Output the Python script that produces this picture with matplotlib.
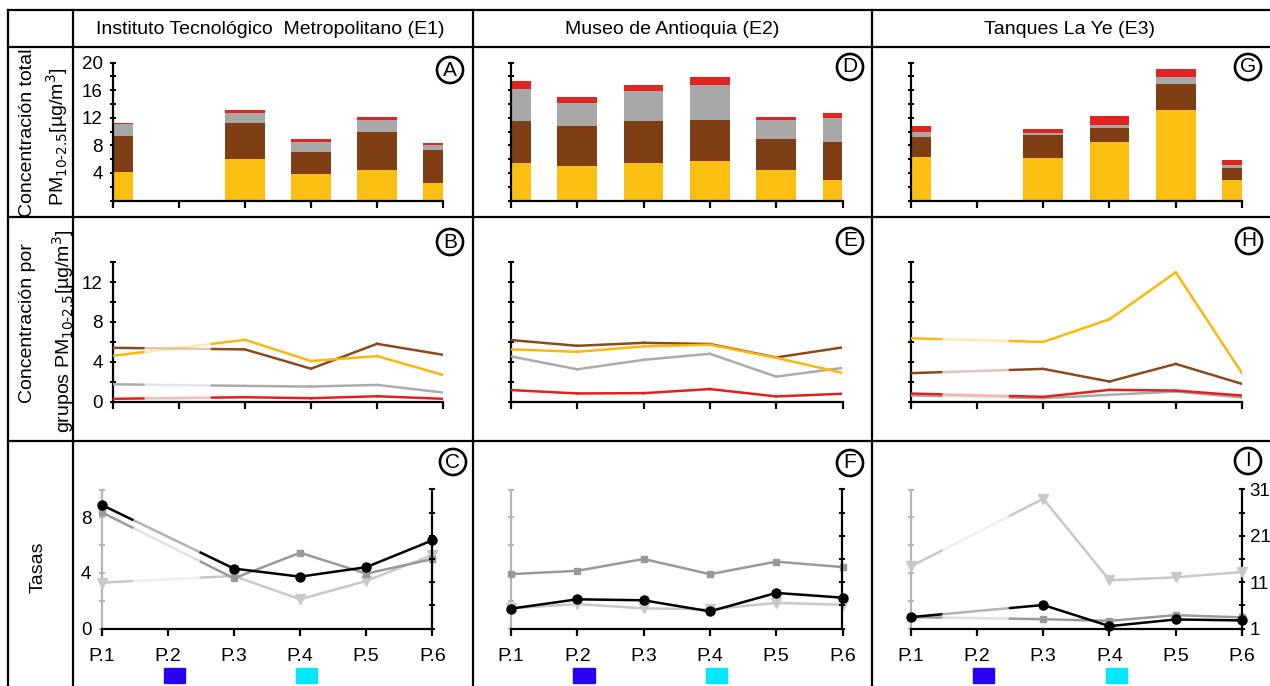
import numpy as np
import matplotlib
matplotlib.use("Agg")
import matplotlib.pyplot as plt
import matplotlib.transforms as mtransforms
from matplotlib.lines import Line2D
from matplotlib.patches import Rectangle

plt.rcParams['font.family'] = ['Liberation Sans Narrow', 'Liberation Sans', 'DejaVu Sans']
plt.rcParams['mathtext.fontset'] = 'custom'
plt.rcParams['mathtext.rm'] = 'Liberation Sans Narrow'
plt.rcParams['mathtext.it'] = 'Liberation Sans Narrow'
plt.rcParams['mathtext.bf'] = 'Liberation Sans Narrow'

nan = np.nan

STATIONS = ["Instituto Tecnológico  Metropolitano (E1)", "Museo de Antioquia (E2)", "Tanques La Ye (E3)"]
POINTS = ["P.1", "P.2", "P.3", "P.4", "P.5", "P.6"]
PANEL_TAGS = [["A", "B", "C"], ["D", "E", "F"], ["G", "H", "I"]]

# stacked totals per group (yellow, brown, gray, red), ug/m3
E1_STACK = [[4.2, nan, 6.0, 3.9, 4.4, 2.5],
            [5.2, nan, 5.2, 3.1, 5.6, 4.75],
            [1.7, nan, 1.45, 1.45, 1.7, 0.85],
            [0.15, nan, 0.45, 0.4, 0.45, 0.2]]
E2_STACK = [[5.4, 5.06, 5.49, 5.78, 4.48, 3.04],
            [6.17, 5.74, 6.08, 5.93, 4.48, 5.49],
            [4.53, 3.32, 4.29, 4.96, 2.65, 3.42],
            [1.2, 0.82, 0.91, 1.26, 0.53, 0.77]]
E3_STACK = [[6.36, nan, 6.17, 8.48, 13.16, 2.94],
            [2.84, nan, 3.28, 2.02, 3.76, 1.83],
            [0.73, nan, 0.28, 0.49, 1.01, 0.43],
            [0.87, nan, 0.58, 1.25, 1.2, 0.63]]

# concentration per group (same group order)
E1_GROUPS = [[4.6, nan, 6.2, 4.07, 4.57, 2.67],
             [5.4, nan, 5.24, 3.3, 5.8, 4.7],
             [1.73, nan, 1.57, 1.5, 1.67, 0.9],
             [0.27, nan, 0.43, 0.33, 0.53, 0.27]]
E2_GROUPS = [[5.24, 5.0, 5.54, 5.71, 4.39, 2.87],
             [6.18, 5.6, 5.9, 5.78, 4.43, 5.44],
             [4.53, 3.24, 4.19, 4.8, 2.5, 3.38],
             [1.15, 0.81, 0.84, 1.25, 0.51, 0.78]]
E3_GROUPS = [[6.36, nan, 5.99, 8.27, 12.99, 2.85],
             [2.85, nan, 3.28, 2.01, 3.78, 1.77],
             [0.6, nan, 0.33, 0.67, 1.0, 0.4],
             [0.8, nan, 0.47, 1.17, 1.1, 0.6]]

# rates: circles, squares, triangles
E1_RATES = [[8.89, nan, 4.31, 3.73, 4.41, 6.34],
            [8.36, nan, 3.61, 5.45, 3.95, 4.99],
            [3.3, nan, 3.78, 2.1, 3.42, 5.28]]
E2_RATES = [[1.43, 2.1, 2.03, 1.23, 2.56, 2.22],
            [3.91, 4.15, 5.0, 3.91, 4.81, 4.42],
            [1.45, 1.76, 1.45, 1.38, 1.84, 1.71]]
E3_RATES = [[0.82, nan, 1.69, 0.17, 0.65, 0.58],
            [0.82, nan, 0.67, 0.55, 0.96, 0.8],
            [14.4, nan, 29.0, 11.4, 12.05, 13.2]]   # right axis

STACKS = [E1_STACK, E2_STACK, E3_STACK]
GROUP_LINES = [E1_GROUPS, E2_GROUPS, E3_GROUPS]
RATES = [E1_RATES, E2_RATES, E3_RATES]

BAR_COLORS = ["#FBBF12", "#803E15", "#A9A8A8", "#E32522"]
LINE_COLORS = ["#F8B80C", "#8B4A1E", "#ABABAB", "#E3201C"]
RATE_COLORS = ["#000000", "#999999", "#C8C8C8"]
RATE_MARKERS = ["o", "s", "v"]
RATE_MS = [6.5, 5, 6.5]
MARK_COLORS = {1: "#2A00F5", 3: "#00E8FF"}

W, H = 1270, 686
fig = plt.figure(figsize=(W / 100, H / 100), dpi=100)


def rect(x0, y0, x1, y1):
    return [x0 / W, 1 - y1 / H, (x1 - x0) / W, (y1 - y0) / H]


def hline(y, x0, x1):
    fig.add_artist(Line2D([x0 / W, x1 / W], [1 - y / H] * 2, transform=fig.transFigure,
                          color="black", lw=1.6))


def vline(x, y0, y1):
    fig.add_artist(Line2D([x / W] * 2, [1 - y0 / H, 1 - y1 / H], transform=fig.transFigure,
                          color="black", lw=1.6))


def style_axis(ax, top, step, labels_every, show_zero, show_labels=True):
    for s in ("top", "right"):
        ax.spines[s].set_visible(False)
    for s in ("left", "bottom"):
        ax.spines[s].set_linewidth(1.6)
    ax.set_xlim(0, 5)
    ax.set_ylim(0, top)
    ax.set_xticks(range(6))
    ax.set_xticklabels([])
    ticks = np.arange(0, top + 0.01, step)
    ax.set_yticks(ticks)
    if show_labels:
        lab = []
        for t in ticks:
            if t % labels_every == 0 and (t > 0 or show_zero):
                lab.append("%d" % t)
            else:
                lab.append("")
        ax.set_yticklabels(lab)
    else:
        ax.set_yticklabels([])
    ax.tick_params(axis="y", direction="inout", length=5, width=1.4, labelsize=13.5, pad=5)
    ax.tick_params(axis="x", direction="out", length=5, width=1.6, labelsize=14, pad=9)
    ax.patch.set_alpha(0)


def draw_series(ax, values, color, lw, marker=None, ms=0, z=3):
    vals = np.asarray(values, dtype=float)
    xs = np.arange(len(vals))
    ok = ~np.isnan(vals)
    xv, yv = xs[ok], vals[ok]
    for x0, y0, x1, y1 in zip(xv[:-1], yv[:-1], xv[1:], yv[1:]):
        if x1 - x0 == 1:
            ax.plot([x0, x1], [y0, y1], color=color, lw=lw, zorder=z)
        else:
            # skipped point: keep the ends solid, wash out the middle
            xa, xb = x0 + 0.24 * (x1 - x0), x0 + 0.74 * (x1 - x0)
            ya, yb = y0 + 0.24 * (y1 - y0), y0 + 0.74 * (y1 - y0)
            ax.plot([x0, xa], [y0, ya], color=color, lw=lw, zorder=z, solid_capstyle="butt")
            ax.plot([xa, xb], [ya, yb], color=color, lw=lw, zorder=z, alpha=0.3,
                    solid_capstyle="butt")
            ax.plot([xb, x1], [yb, y1], color=color, lw=lw, zorder=z, solid_capstyle="butt")
    if marker:
        ax.plot(xv, yv, ls="none", marker=marker, ms=ms, color=color, zorder=z + 0.5,
                clip_on=False)


def tag(x, y, letter):
    fig.text(x / W, 1 - y / H, letter, ha="center", va="center", fontsize=15,
             bbox=dict(boxstyle="circle,pad=0.17", fc="white", ec="black", lw=1.9))


# table frame
hline(10, 8, 1270)
hline(47, 8, 1270)
hline(217, 8, 1270)
hline(441, 8, 1270)
for xv_ in (8, 73, 473, 872):
    vline(xv_, 10, 686)

col_centers = [270, 672, 1070]
for cx, name in zip(col_centers, STATIONS):
    fig.text(cx / W, 1 - 29 / H, name, ha="center", va="center", fontsize=14)

# row titles
pm = r"PM$_{10\text{-}2.5}$[µg/m$^{3}$]"
fig.text(28 / W, 1 - 133 / H, "Concentración total", rotation=90, ha="center", va="center", fontsize=14)
fig.text(57 / W, 1 - 137 / H, pm, rotation=90, ha="center", va="center", fontsize=14)
fig.text(28 / W, 1 - 323 / H, "Concentración por", rotation=90, ha="center", va="center", fontsize=14)
fig.text(63 / W, 1 - 331 / H, "grupos " + pm, rotation=90, ha="center", va="center", fontsize=14)
fig.text(38 / W, 1 - 567 / H, "Tasas", rotation=90, ha="center", va="center", fontsize=14)

AX_X = [(113, 443), (511, 842.5), (910.7, 1242)]
RATE_X = [(101.7, 432.3), (511, 842.5), (910.7, 1242)]
TAG_POS = [[(450, 70), (450, 242), (453, 462)],
           [(850, 67), (850, 241), (850, 463)],
           [(1248, 67), (1249, 241), (1248, 461)]]

for c in range(3):
    x0, x1 = AX_X[c]
    first = (c == 0)

    # stacked totals
    ax = fig.add_axes(rect(x0, 62.5, x1, 200.5))
    style_axis(ax, 20, 2, 4, False, first)
    data = np.asarray(STACKS[c], dtype=float)
    idx = np.where(~np.isnan(data[0]))[0]
    bottom = np.zeros(len(idx))
    for g in range(4):
        ax.bar(idx, data[g, idx], bottom=bottom, width=0.6, color=BAR_COLORS[g],
               edgecolor="none", zorder=2)
        bottom += data[g, idx]

    # concentration per group
    ax = fig.add_axes(rect(x0, 262.3, x1, 401.5))
    style_axis(ax, 14, 2, 4, True, first)
    for g in (2, 3, 1, 0):
        draw_series(ax, GROUP_LINES[c][g], LINE_COLORS[g], 1.8)

    # rates
    rx0, rx1 = RATE_X[c]
    ax = fig.add_axes(rect(rx0, 489.5, rx1, 628.5))
    style_axis(ax, 10, 2, 4, True, first)
    ax.spines["left"].set_color("#B5B5B5")
    ax.tick_params(axis="y", colors="#B5B5B5", labelcolor="black")
    ax.set_xticklabels(POINTS)
    ax2 = ax.twinx()
    ax2.set_ylim(1, 31)
    ax2.set_yticks(np.arange(1, 32, 5))
    if c == 2:
        ax2.set_yticklabels(["%d" % t if (t - 1) % 10 == 0 else "" for t in np.arange(1, 32, 5)])
    else:
        ax2.set_yticklabels([])
    for s in ("top", "left", "bottom"):
        ax2.spines[s].set_visible(False)
    ax2.spines["right"].set_linewidth(1.6)
    ax2.tick_params(axis="y", direction="inout", length=5, width=1.4, labelsize=13.5, pad=3)
    for k in (2, 1, 0):
        target = ax2 if (c == 2 and k == 2) else ax
        draw_series(target, RATES[c][k], RATE_COLORS[k], 1.8, RATE_MARKERS[k], RATE_MS[k],
                    z=3 + (2 - k))

    # coloured keys under P.2 and P.4
    trans = mtransforms.blended_transform_factory(ax.transData, fig.transFigure)
    for p, col in MARK_COLORS.items():
        fig.add_artist(Rectangle((p + 0.1 - 0.16, 1 - 683 / H), 0.32, 15 / H, transform=trans,
                                 color=col, clip_on=False))

    for r in range(3):
        tx, ty = TAG_POS[c][r]
        tag(tx, ty, PANEL_TAGS[c][r])

fig.savefig("out.png", dpi=100)
